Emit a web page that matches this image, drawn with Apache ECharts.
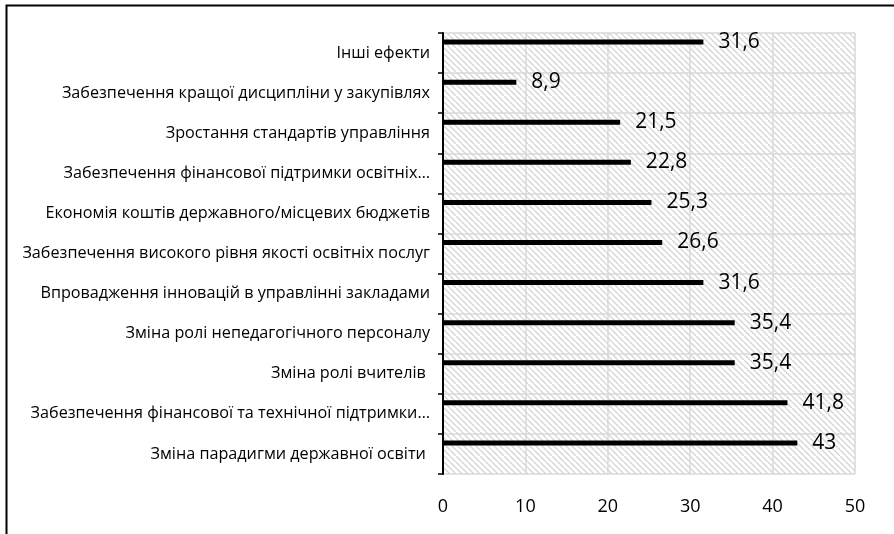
<!DOCTYPE html>
<html><head><meta charset="utf-8">
<script src="https://cdn.jsdelivr.net/npm/echarts@6/dist/echarts.min.js"></script>
<style>html,body{margin:0;padding:0;background:#fff}#c{width:894px;height:534px}</style>
</head><body><div id="c"></div>
<script>
const categories = [
  'Інші ефекти',
  'Забезпечення кращої дисципліни у закупівлях',
  'Зростання стандартів управління',
  'Забезпечення фінансової підтримки освітніх…',
  'Економія коштів державного/місцевих бюджетів',
  'Забезпечення високого рівня якості освітніх послуг',
  'Впровадження інновацій в управлінні закладами',
  'Зміна ролі непедагогічного персоналу',
  'Зміна ролі вчителів ',
  'Забезпечення фінансової та технічної підтримки…',
  'Зміна парадигми державної освіти '
];
const values = [31.6, 8.9, 21.5, 22.8, 25.3, 26.6, 31.6, 35.4, 35.4, 41.8, 43];
const xTicks = [0, 10, 20, 30, 40, 50];

const s = 6;
const cv = document.createElement('canvas');
cv.width = s; cv.height = s;
const cx = cv.getContext('2d');
cx.fillStyle = '#fff'; cx.fillRect(0, 0, s, s);
cx.strokeStyle = '#d6d6d6'; cx.lineWidth = 1.4;
for (const k of [-s, 0, s]) { cx.beginPath(); cx.moveTo(k, 0); cx.lineTo(k + s, s); cx.stroke(); }

const chart = echarts.init(document.getElementById('c'));
chart.setOption({
  animation: false,
  backgroundColor: '#fff',
  grid: { left: 443, right: 39, top: 33, bottom: 60, show: true, backgroundColor: { image: cv, repeat: 'repeat' }, borderWidth: 0 },
  xAxis: {
    type: 'value', min: xTicks[0], max: xTicks[xTicks.length - 1], interval: 10,
    axisLine: { show: false }, axisTick: { show: false },
    splitLine: { show: true, lineStyle: { color: '#d9d9d9', width: 1.5 } },
    axisLabel: { margin: 24, fontFamily: 'Open Sans', fontSize: 18, color: '#000' }
  },
  yAxis: {
    type: 'category', inverse: true, data: categories,
    axisLine: { show: true, lineStyle: { color: '#000', width: 2 } },
    axisTick: { show: true, length: 5, lineStyle: { color: '#000', width: 1.5 } },
    splitLine: { show: true, lineStyle: { color: '#d9d9d9', width: 1.5 } },
    axisLabel: { margin: 13, fontFamily: 'Open Sans', fontSize: 16.2, color: '#000' }
  },
  graphic: [{ type: 'rect', left: 4, top: 3, shape: { width: 1000, height: 1000 }, style: { fill: 'none', stroke: '#000', lineWidth: 2 }, z: 100 }],
  series: [
    { type: 'bar', data: values, barWidth: 5, barGap: '340%', itemStyle: { color: '#000' },
      label: { show: true, position: 'right', distance: 15, fontFamily: 'Open Sans', fontSize: 21, color: '#000',
        formatter: p => String(p.value).replace('.', ',') } },
    { type: 'bar', data: values.map(() => null), barWidth: 5 }
  ]
});
</script></body></html>
